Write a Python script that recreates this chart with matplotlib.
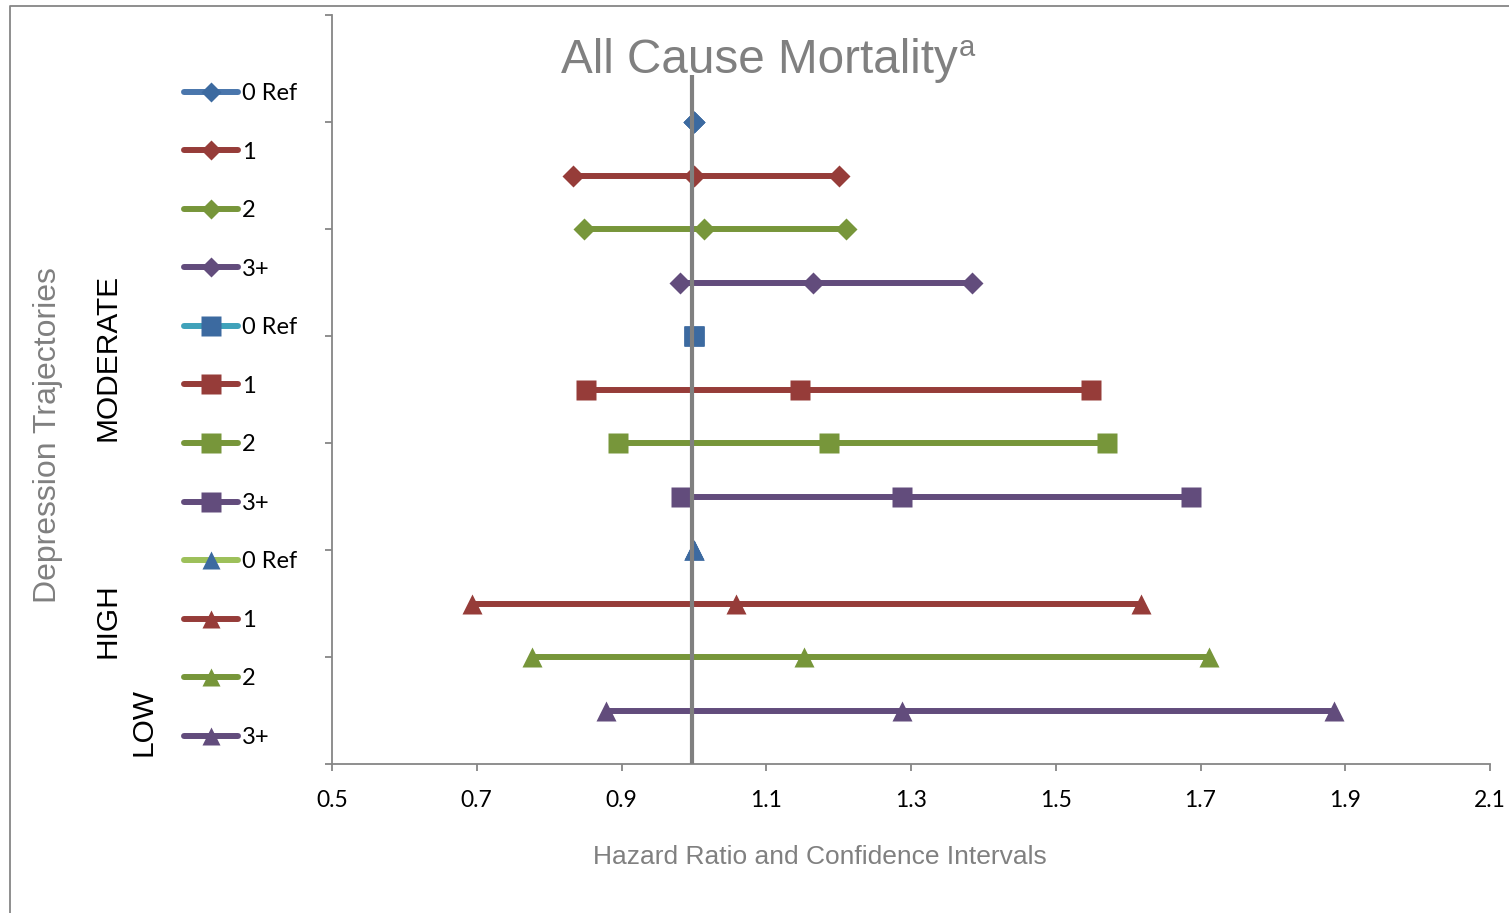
import matplotlib
matplotlib.use("Agg")
import matplotlib.pyplot as plt
from matplotlib.lines import Line2D

# ---------------- data ----------------
categories = ["0 Ref", "1", "2", "3+"]
groups = ["MODERATE", "HIGH", "LOW"]

moderate_low = [1.00, 0.833, 0.848, 0.981]
moderate_hr = [1.00, 1.000, 1.014, 1.165]
moderate_high = [1.00, 1.200, 1.210, 1.384]

high_low = [1.00, 0.851, 0.895, 0.982]
high_hr = [1.00, 1.147, 1.187, 1.288]
high_high = [1.00, 1.549, 1.571, 1.687]

low_low = [1.00, 0.693, 0.776, 0.879]
low_hr = [1.00, 1.058, 1.152, 1.288]
low_high = [1.00, 1.618, 1.712, 1.884]

x_ticks = [0.5, 0.7, 0.9, 1.1, 1.3, 1.5, 1.7, 1.9, 2.1]
ref_value = 0.997

# ---------------- style ----------------
BLUE = "#3C6AA0"
RED = "#963C39"
GREEN = "#77963A"
PURPLE = "#624C7C"
GRAY = "#868686"
TXT_GRAY = "#808080"

marker_colors = [BLUE, RED, GREEN, PURPLE]
line_colors = [
    ["#4A76AC", RED, GREEN, PURPLE],
    ["#40A2BA", RED, GREEN, PURPLE],
    ["#9DC05A", RED, GREEN, PURPLE]]
group_markers = ["D", "s", "^"]
marker_sizes = {"D": 11, "s": 14.5, "^": 14}

W, H = 1509, 913
fig = plt.figure(figsize=(W / 100, H / 100), dpi=100)
ax = fig.add_axes([332 / W, 1 - 764 / H, (1490 - 332) / W, (764 - 15) / H])

data = [
    (moderate_low, moderate_hr, moderate_high),
    (high_low, high_hr, high_high),
    (low_low, low_hr, low_high),
]

handles = []
row = 12
for g, (lo, hr, hi) in enumerate(data):
    m = group_markers[g]
    for i, cat in enumerate(categories):
        xs = [lo[i], hr[i], hi[i]]
        ax.plot(xs, [row] * 3, color=marker_colors[i], lw=4.3,
                marker=m, ms=marker_sizes[m], mfc=marker_colors[i],
                mec="none", solid_capstyle="butt", zorder=3)
        handles.append(Line2D([], [], color=line_colors[g][i], lw=4.3,
                              marker=m, ms=marker_sizes[m] * 0.95,
                              mfc=marker_colors[i], mec="none",
                              solid_capstyle="round", label=cat))
        row -= 1

ax.plot([ref_value, ref_value], [0, 12.88], color="#808080", lw=3.0, zorder=5,
        solid_capstyle="butt")

ax.set_xlim(0.5, 2.1)
ax.set_ylim(0, 14)
ax.set_xticks(x_ticks)
ax.set_xticklabels([f"{v:.1f}" for v in x_ticks], fontfamily="Lato", fontsize=16.5)
ax.set_yticks(range(0, 15, 2))
ax.set_yticklabels([])
for s in ["top", "right"]:
    ax.spines[s].set_visible(False)
for s in ["left", "bottom"]:
    ax.spines[s].set_color(GRAY)
    ax.spines[s].set_linewidth(1.3)
ax.tick_params(axis="both", colors=GRAY, length=5, width=1.3, labelcolor="black")
ax.tick_params(axis="x", pad=14)

leg = fig.legend(handles=handles, loc="upper left",
                 bbox_to_anchor=(184 / W, 1 - 83 / H), frameon=False,
                 prop={"family": "Lato", "size": 17}, handlelength=2.3,
                 handletextpad=0.17, labelspacing=1.59, borderpad=0,
                 borderaxespad=0)

# titles and labels
fig.text(561 / W, 1 - 73 / H, "All Cause Mortality", fontfamily="Liberation Sans",
         fontsize=34.3, color=TXT_GRAY, ha="left", va="baseline")
fig.text(959 / W, 1 - 56 / H, "a", fontfamily="Liberation Sans",
         fontsize=21, color=TXT_GRAY, ha="left", va="baseline")
fig.text(820 / W, 1 - 857 / H, "Hazard Ratio and Confidence Intervals",
         fontfamily="Liberation Sans", fontsize=19, color=TXT_GRAY,
         ha="center", va="center")
fig.text(48 / W, 1 - 435 / H, "Depression Trajectories", rotation=90,
         fontfamily="Liberation Sans", fontsize=23, color=TXT_GRAY,
         ha="center", va="center")
fig.text(108 / W, 1 - 357 / H, groups[0], rotation=90,
         fontfamily="Liberation Sans", fontsize=21.5, color="black",
         ha="center", va="center")
fig.text(108 / W, 1 - 621 / H, groups[1], rotation=90,
         fontfamily="Liberation Sans", fontsize=21.5, color="black",
         ha="center", va="center")
fig.text(143 / W, 1 - 722 / H, groups[2], rotation=90,
         fontfamily="Liberation Sans", fontsize=21.5, color="black",
         ha="center", va="center")

# chart border (top and left)
fig.add_artist(Line2D([10 / W, 10 / W, 1], [0, 1 - 6 / H, 1 - 6 / H],
                      transform=fig.transFigure, color=GRAY, lw=1.3))

fig.savefig("out.png", dpi=100, facecolor="white")
